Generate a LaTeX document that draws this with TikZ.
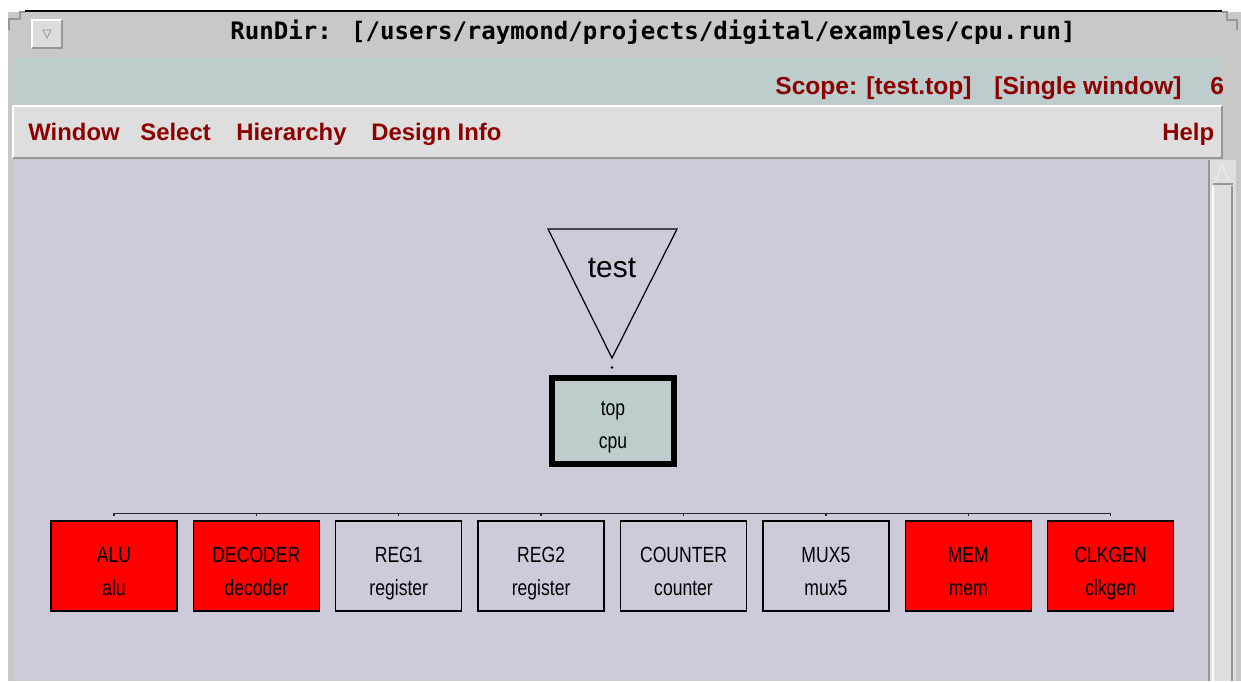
\documentclass[tikz,border=0pt]{standalone}
\usepackage{fontspec}
\setmainfont{Liberation Sans}
\newfontfamily\titlefont{DejaVu Sans Mono}
\newfontfamily\cellfont[FakeStretch=0.8]{Liberation Sans}
\usetikzlibrary{positioning}
\definecolor{hvframe}{RGB}{200, 200, 200}
\definecolor{hvscope}{RGB}{189, 205, 205}
\definecolor{hvmenu}{RGB}{222, 222, 222}
\definecolor{hvcanvas}{RGB}{203, 203, 217}
\definecolor{hvshade}{RGB}{150, 150, 150}
\definecolor{hvred}{RGB}{139, 0, 0}

\begin{document}
\begin{tikzpicture}[
    x=0.02cm, y=-0.02cm,
    menu item/.style={font=\fontsize{13.6}{15}\selectfont\bfseries, text=hvred, anchor=base west, inner sep=0pt},
    scope item/.style={menu item, font=\fontsize{14}{16}\selectfont\bfseries},
    cell/.style={draw=black, line width=0.8pt, minimum width=2.52cm, minimum height=1.8cm,
        inner sep=0pt, align=center, text height=34pt, text depth=0pt,
        font=\cellfont\fontsize{12.5}{19}\selectfont},
    hot cell/.style={cell, fill=red},
    cold cell/.style={cell, fill=hvcanvas},
    bus/.style={line width=0.8pt, black!85}
]
\useasboundingbox (0,0) rectangle (1241,681);

% =============================================
% WINDOW FRAME
% =============================================

% Title bar and outer frame
\fill[hvframe] (8,12) rectangle (1241,681);
\draw[black, line width=1.6pt] (25,11) -- (1222,11);
\draw[hvshade, line width=0.8pt] (9,30) -- (9,19) -- (20,19) -- (20,12) -- (25,12);
\draw[hvshade, line width=0.8pt] (1222,12) -- (1227,12) -- (1227,20) -- (1237,20) -- (1237,30);

% Close button
\fill[hvmenu!90!hvframe] (32,20) rectangle (62,48);
\draw[white, line width=0.8pt] (32,48) -- (32,20) -- (62,20);
\draw[hvshade, line width=1pt] (32,48) -- (62,48) -- (62,20);
\draw[hvshade, line width=0.5pt] (43,30) -- (51,30) -- (47,38) -- cycle;

% Title
\node[font=\titlefont\bfseries\fontsize{13.7}{16}\selectfont, inner sep=0pt] (title) at (653,32)
    {RunDir: [/users/raymond/projects/digital/examples/cpu.run]};

% Scope bar
\fill[hvscope] (13,58) rectangle (1222,104);
\node[scope item] (scope) at (775,94) {Scope: [test.top]};
\node[scope item] (mode) at (994,94) {[Single window]};
\node[scope item] (count) at (1210,94) {6};

% Menu bar
\fill[hvmenu] (13,106) rectangle (1222,158);
\draw[white, line width=0.8pt] (13,158) -- (13,106) -- (1222,106);
\draw[hvshade, line width=1pt] (13,158) -- (1222,158) -- (1222,106);
\node[menu item] (window) at (28,140) {Window};
\node[menu item] (select) at (140,140) {Select};
\node[menu item] (hierarchy) at (236,140) {Hierarchy};
\node[menu item] (design) at (371,140) {Design Info};
\node[menu item] (help) at (1162,140) {Help};

% Canvas
\fill[hvcanvas] (13,160) rectangle (1208,681);

% Scrollbar
\fill[hvmenu] (1210,160) rectangle (1236,681);
\draw[hvshade, line width=1pt] (1209,160) -- (1209,681);
\draw[white, line width=0.6pt] (1213,186) -- (1213,681);
\draw[hvshade, line width=0.8pt] (1232,186) -- (1232,681);
\draw[hvshade, line width=0.6pt] (1213,184) -- (1233,184);
\draw[white, line width=0.6pt, densely dotted] (1215,182) -- (1222,165) -- (1230,182);

% =============================================
% HIERARCHY
% =============================================

% Root port
\draw[line width=0.7pt] (548,229) -- (677,229) -- (612,358) -- cycle;
\node[font=\fontsize{17}{19}\selectfont] (test) at (612,268) {test};
\coordinate (tip) at (612,358);
\fill ([yshift=-0.19cm]tip) circle (1.4);

% Top instance
\node[draw=black, line width=0.12cm, fill=hvscope, minimum width=2.44cm, minimum height=1.72cm,
    inner sep=0pt, align=center, text height=31pt, text depth=0pt,
    font=\cellfont\fontsize{12.5}{18.5}\selectfont] (top) at (613,421)
    {top\\cpu};

% Child instances
\node[hot cell] (alu) at (114,566) {ALU\\alu};
\node[hot cell, right=0.30cm of alu] (decoder) {DECODER\\decoder};
\node[cold cell, right=0.30cm of decoder] (reg1) {REG1\\register};
\node[cold cell, right=0.30cm of reg1] (reg2) {REG2\\register};
\node[cold cell, right=0.30cm of reg2] (counter) {COUNTER\\counter};
\node[cold cell, right=0.30cm of counter] (mux5) {MUX5\\mux5};
\node[hot cell, right=0.30cm of mux5] (mem) {MEM\\mem};
\node[hot cell, right=0.30cm of mem] (clkgen) {CLKGEN\\clkgen};

% Bus with ticks
\draw[bus] ([yshift=0.14cm]alu.north) -- ([yshift=0.14cm]clkgen.north);
\foreach \b in {alu, decoder, reg1, reg2, counter, mux5, mem, clkgen}
    \draw[bus] ([yshift=0.14cm]\b.north) -- ([yshift=0.08cm]\b.north);

\end{tikzpicture}
\end{document}
